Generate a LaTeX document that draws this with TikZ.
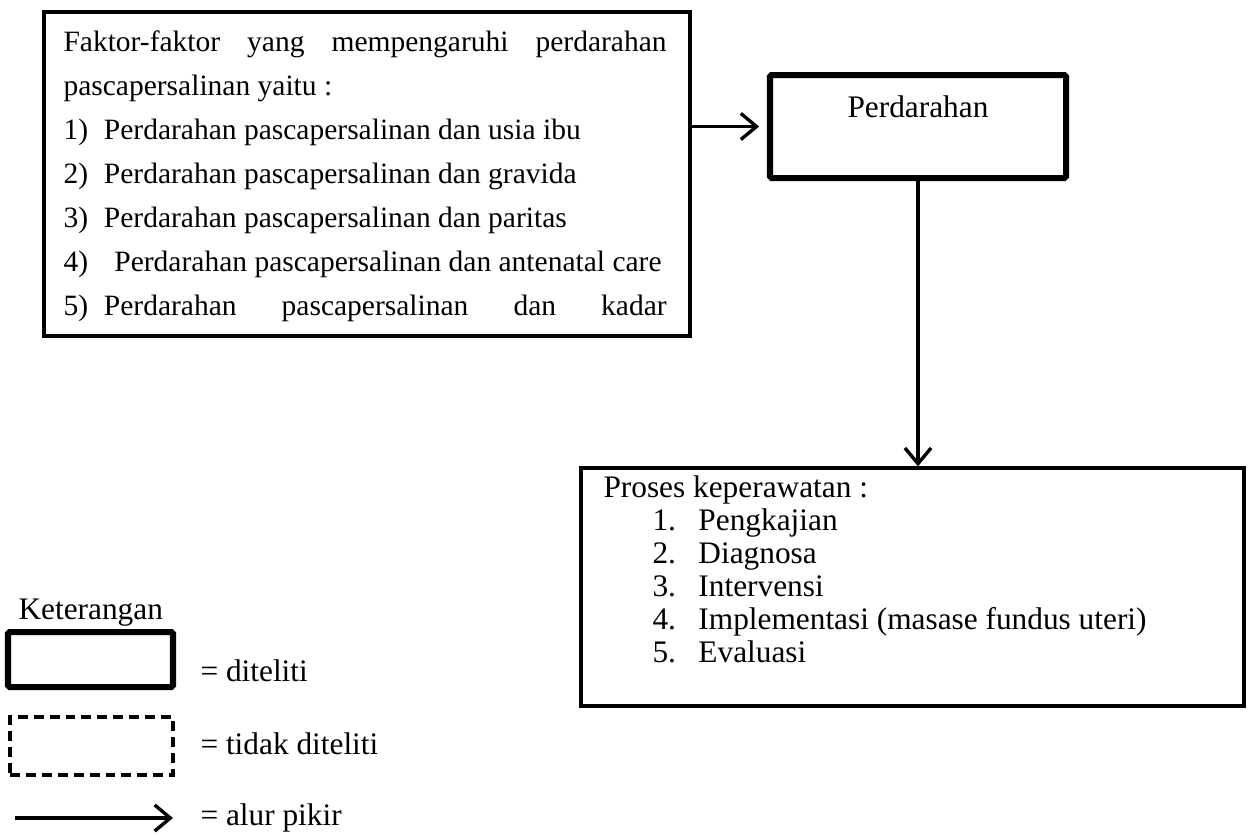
\documentclass[tikz,border=0pt]{standalone}
\usepackage{fontspec}
\setmainfont{Liberation Serif}
\usetikzlibrary{arrows.meta,fit}

\begin{document}
\begin{tikzpicture}[x=0.383pt,y=-0.383pt,
  txt/.style={anchor=west,inner sep=0pt,text height=8.5pt,text depth=2.6pt,font=\fontsize{12}{14}\selectfont},
  ftxt/.style={txt,font=\fontsize{11.3}{13}\selectfont},
  thinbox/.style={draw,line width=1.3pt,inner sep=0pt},
  thickbox/.style={draw,line width=2.3pt,inner sep=0pt,rounded corners=0.6pt},
  dashbox/.style={draw,line width=1.3pt,inner sep=0pt,dash pattern=on 3.8pt off 2.3pt},
  flow/.style={line width=1.3pt,-{Straight Barb[length=6pt,width=10pt,line width=1.3pt]}}]
\useasboundingbox (0,0) rectangle (1256,836);

% kotak faktor
\node[thinbox,fit={(44,12) (690,336)}] (faktor) {};
\node[ftxt] (ft0) at (63,44) {\makebox[231pt][s]{Faktor-faktor yang mempengaruhi perdarahan}};
\node[ftxt] (ft1) at (63,88) {pascapersalinan yaitu :};
\node[ftxt] (fa1) at (63,132) {\makebox[15.5pt][l]{1)}Perdarahan pascapersalinan dan usia ibu};
\node[ftxt] (fa2) at (63,176) {\makebox[15.5pt][l]{2)}Perdarahan pascapersalinan dan gravida};
\node[ftxt] (fa3) at (63,220) {\makebox[15.5pt][l]{3)}Perdarahan pascapersalinan dan paritas};
\node[ftxt] (fa4) at (63,264) {\makebox[19.5pt][l]{4)}Perdarahan pascapersalinan dan antenatal care};
\node[ftxt] (fa5) at (63,308) {\makebox[15.5pt][l]{5)}\makebox[215.5pt][s]{Perdarahan pascapersalinan dan kadar}};

% kotak perdarahan
\node[thickbox,fit={(770,75) (1066,178)}] (perd) {};
\node[txt,anchor=center] (perdt) at (918,110) {Perdarahan};

% kotak proses keperawatan
\node[thinbox,fit={(581,468) (1244,706)}] (proses) {};
\node[txt] (pt0) at (603,490) {Proses keperawatan :};
\node[txt] (pa1) at (652,523) {\makebox[17.6pt][l]{1.}Pengkajian};
\node[txt] (pa2) at (652,556) {\makebox[17.6pt][l]{2.}Diagnosa};
\node[txt] (pa3) at (652,589) {\makebox[17.6pt][l]{3.}Intervensi};
\node[txt] (pa4) at (652,622) {\makebox[17.6pt][l]{4.}Implementasi (masase fundus uteri)};
\node[txt] (pa5) at (652,655) {\makebox[17.6pt][l]{5.}Evaluasi};

% alur
\draw[flow,shorten >=3pt] (perd.west -| faktor.east) -- (perd.west);
\draw[flow] (perd.south) -- (perd.south |- proses.north);

% keterangan
\node[txt] (ket) at (18,612) {Keterangan};
\node[thickbox,fit={(8,632) (173,687)}] (ketA) {};
\node[txt] (ketAt) at (200,674) {= diteliti};
\node[dashbox,fit={(10,717) (173,775)}] (ketB) {};
\node[txt] (ketBt) at (200,747) {= tidak diteliti};
\coordinate (ketC0) at (15,818);
\coordinate (ketC1) at (173,818);
\draw[flow] (ketC0) -- (ketC1);
\node[txt] (ketCt) at (200,818) {= alur pikir};
\end{tikzpicture}
\end{document}
